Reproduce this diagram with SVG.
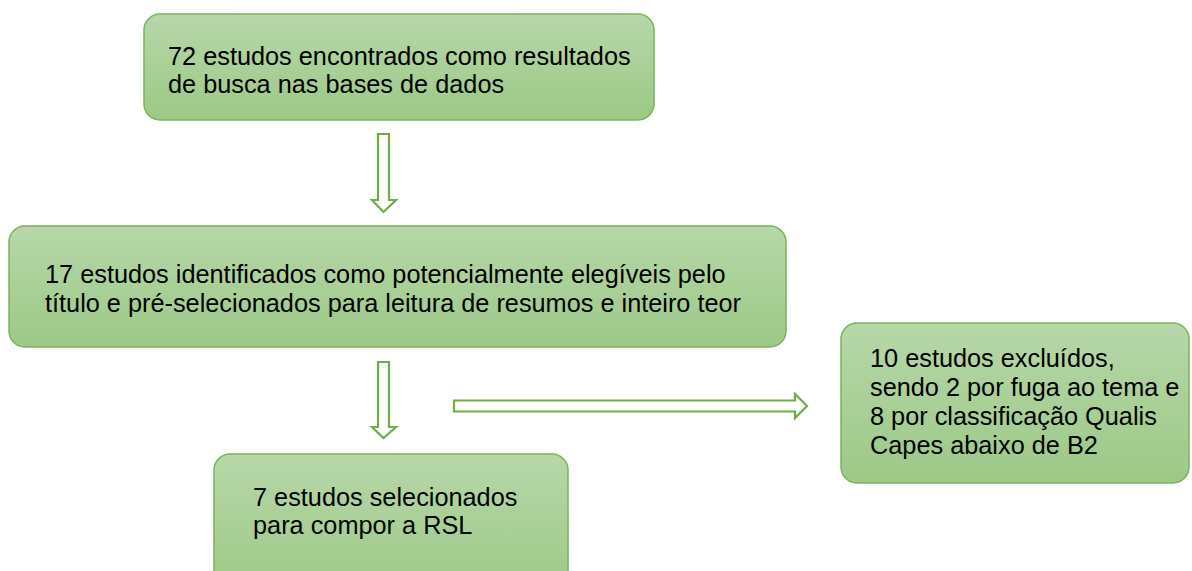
<svg xmlns="http://www.w3.org/2000/svg" width="1192" height="571" viewBox="0 0 1192 571">
<defs>
<linearGradient id="g" x1="0" y1="0" x2="0" y2="1">
<stop offset="0" stop-color="#b7d7a9"/>
<stop offset="1" stop-color="#9cc986"/>
</linearGradient>
<style>
.box{fill:url(#g);stroke:#7bb459;stroke-width:1.5}
.t{font-family:"Liberation Sans",Arial,sans-serif;font-size:25.3px;fill:#000}
.arr{fill:#fff;stroke:#70ad47;stroke-width:2.2;stroke-linejoin:miter}
</style>
</defs>
<rect width="1192" height="571" fill="#fff"/>
<g id="n1">
<rect class="box" x="144" y="14" width="510" height="106" rx="16"/>
<text class="t" x="168" y="65">72 estudos encontrados como resultados</text>
<text class="t" x="168" y="93">de busca nas bases de dados</text>
</g>
<g id="n2">
<rect class="box" x="9" y="226" width="777" height="121" rx="16"/>
<text class="t" x="45" y="283">17 estudos identificados como potencialmente elegíveis pelo</text>
<text class="t" x="45" y="312">título e pré-selecionados para leitura de resumos e inteiro teor</text>
</g>
<g id="n3">
<rect class="box" x="841" y="323" width="348" height="160" rx="16"/>
<text class="t" x="870" y="367">10 estudos excluídos,</text>
<text class="t" x="870" y="396">sendo 2 por fuga ao tema e</text>
<text class="t" x="870" y="425">8 por classificação Qualis</text>
<text class="t" x="870" y="454">Capes abaixo de B2</text>
</g>
<g id="n4">
<rect class="box" x="214" y="454" width="354" height="140" rx="16"/>
<text class="t" x="253" y="506">7 estudos selecionados</text>
<text class="t" x="253" y="534">para compor a RSL</text>
</g>
<g id="connectors">
<path class="arr" d="M378,134 H389 V200 H396 L383.5,212 L372,200 H378 Z"/>
<path class="arr" d="M378,362 H389 V427 H396 L383.5,438 L372,427 H378 Z"/>
<path class="arr" d="M454,400.5 H795 V394 L807,406 L795,418 V411.5 H454 Z"/>
</g>
</svg>
